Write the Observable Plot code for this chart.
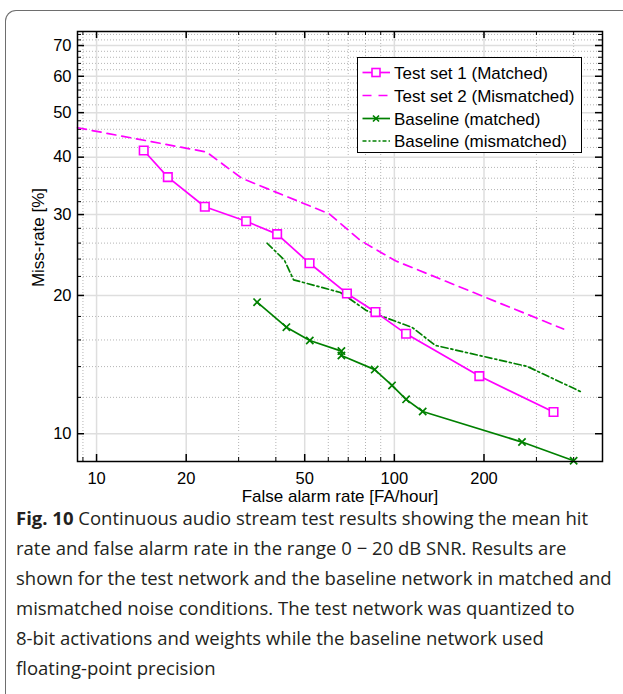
<!DOCTYPE html>
<html><head><meta charset="utf-8">
<script src="https://cdn.jsdelivr.net/npm/d3@7"></script>
<script src="https://cdn.jsdelivr.net/npm/@observablehq/plot@0.6"></script>
<style>
html,body{margin:0;padding:0;background:#fff;}
body{width:623px;height:694px;overflow:hidden;position:relative;font-family:"Liberation Sans",Arial,sans-serif;}
#border{position:absolute;left:5px;top:10px;width:800px;height:900px;border-top:1.5px solid #6e6e6e;border-left:1.5px solid #6e6e6e;border-top-left-radius:11px;}
#chart{position:absolute;left:0;top:0;}
#legend{position:absolute;left:357px;top:57px;width:223px;height:94px;background:#fff;border:1.5px solid #000;}
#caption{position:absolute;left:16px;top:503px;font-family:"Open Sans",sans-serif;font-size:18.5px;line-height:30px;color:#231f20;white-space:nowrap;}
#caption b{font-weight:700;}
</style></head>
<body>
<div id="border"></div>
<div id="chart"></div>
<div id="legend"></div>
<div id="caption"></div>
<script>
// ---- data ----
const set1FA   = [14.4, 17.35, 23.1, 31.8, 40.4, 51.9, 69.3, 86.4, 109.5, 192.9, 342.4];
const set1Miss = [41.35, 36.2, 31.2, 29.0, 27.2, 23.5, 20.2, 18.4, 16.5, 13.35, 11.15];
const set2FA   = [8.63, 23.4, 30.7, 60.5, 76.9, 100.8, 370];
const set2Miss = [46.35, 41.05, 36.0, 30.1, 26.35, 23.8, 16.9];
const baseMFA   = [34.6, 43.4, 52.0, 66.4, 66.4, 85.9, 98.2, 109.5, 124.5, 268.3, 400];
const baseMMiss = [19.34, 17.06, 15.96, 15.13, 14.8, 13.79, 12.74, 11.88, 11.18, 9.59, 8.73];
const baseMMFA   = [37.4, 42.7, 45.9, 65.9, 80.5, 114.9, 137.3, 279.5, 421];
const baseMMMiss = [25.98, 23.89, 21.63, 20.3, 18.55, 17.03, 15.57, 14.01, 12.36];

const xMajor = [10, 20, 50, 100, 200];
const xMinor = [9, 30, 40, 60, 70, 80, 90, 300, 400];
const yMajor = [10, 20, 30, 40, 50, 60, 70];
const yMinor = [12, 14, 16, 18, 22, 24, 26, 28, 32, 34, 36, 38, 42, 44, 46, 48, 52, 54, 56, 58, 62, 64, 66, 68, 72, 74];

const seriesNames = ["Test set 1 (Matched)", "Test set 2 (Mismatched)", "Baseline (matched)", "Baseline (mismatched)"];
const xLabel = "False alarm rate [FA/hour]";
const yLabel = "Miss-rate [%]";
const captionBold = "Fig. 10";
const captionLines = [
  " Continuous audio stream test results showing the mean hit",
  "rate and false alarm rate in the range 0 \u2212 20 dB SNR. Results are",
  "shown for the test network and the baseline network in matched and",
  "mismatched noise conditions. The test network was quantized to",
  "8-bit activations and weights while the baseline network used",
  "floating-point precision"
];

const MAG = "#ff00ff", GRN = "#008000";
const toRows = (xs, ys) => xs.map((x, i) => ({x, y: ys[i]}));
const s1 = toRows(set1FA, set1Miss), s2 = toRows(set2FA, set2Miss);
const b1 = toRows(baseMFA, baseMMiss), b2 = toRows(baseMMFA, baseMMMiss);

const W = 623, H = 512, mL = 77, mR = 21, mT = 31, mB = 51;
const iW = W - mL - mR, iH = H - mT - mB;

const chart = Plot.plot({
  width: W, height: H,
  marginLeft: mL, marginRight: mR, marginTop: mT, marginBottom: mB,
  x: {type: "log", domain: [8.63, 500], ticks: xMajor, tickSize: 0, tickPadding: 11, tickFormat: d => String(d),
      label: xLabel, labelAnchor: "center", labelOffset: 40, labelArrow: "none"},
  y: {type: "log", domain: [8.7, 75.1], ticks: yMajor, tickSize: 0, tickPadding: 6, tickFormat: d => String(d), label: null},
  style: {fontFamily: "'Liberation Sans', Arial, sans-serif", fontSize: "16.5px", color: "#000", background: "transparent", overflow: "visible"},
  marks: [
    // grid
    Plot.ruleX(xMinor, {x: d => d, stroke: "#b4b4b4", strokeWidth: 1, strokeDasharray: "1,2"}),
    Plot.ruleY(yMinor, {y: d => d, stroke: "#b4b4b4", strokeWidth: 1, strokeDasharray: "1,2"}),
    Plot.ruleX(xMajor, {x: d => d, stroke: "#dedede", strokeWidth: 1.5}),
    Plot.ruleY(yMajor, {y: d => d, stroke: "#dedede", strokeWidth: 1.5}),
    // inward ticks, all four sides
    Plot.tickX(xMajor, {x: d => d, insetTop: iH - 7, stroke: "#000", strokeWidth: 1.5}),
    Plot.tickX(xMajor, {x: d => d, insetBottom: iH - 7, stroke: "#000", strokeWidth: 1.5}),
    Plot.tickX(xMinor, {x: d => d, insetTop: iH - 4, stroke: "#000", strokeWidth: 1}),
    Plot.tickX(xMinor, {x: d => d, insetBottom: iH - 4, stroke: "#000", strokeWidth: 1}),
    Plot.tickY(yMajor, {y: d => d, insetRight: iW - 7, stroke: "#000", strokeWidth: 1.5}),
    Plot.tickY(yMajor, {y: d => d, insetLeft: iW - 7, stroke: "#000", strokeWidth: 1.5}),
    Plot.tickY(yMinor, {y: d => d, insetRight: iW - 4, stroke: "#000", strokeWidth: 1}),
    Plot.tickY(yMinor, {y: d => d, insetLeft: iW - 4, stroke: "#000", strokeWidth: 1}),
    // series
    Plot.line(s2, {x: "x", y: "y", stroke: MAG, strokeWidth: 1.7, strokeDasharray: "9,6"}),
    Plot.line(b2, {x: "x", y: "y", stroke: GRN, strokeWidth: 1.7, strokeDasharray: "7,3,2,3"}),
    Plot.line(s1, {x: "x", y: "y", stroke: MAG, strokeWidth: 1.7}),
    Plot.dot(s1, {x: "x", y: "y", symbol: "square", r: 4.8, fill: "white", stroke: MAG, strokeWidth: 1.6}),
    Plot.line(b1, {x: "x", y: "y", stroke: GRN, strokeWidth: 1.7}),
    Plot.dot(b1, {x: "x", y: "y", symbol: "times", r: 3.4, stroke: GRN, strokeWidth: 1.7}),
    // y label
    Plot.text([yLabel], {text: d => d, frameAnchor: "left", textAnchor: "middle", rotate: -90, dx: -39, dy: -9, fontSize: 17}),
    Plot.frame({stroke: "#000", strokeWidth: 1.5})
  ]
});
document.getElementById("chart").appendChild(chart);
d3.select(chart).selectAll("[aria-label='x-axis label'] text, g[aria-label='x-axis label']").style("font-size", "17px");

// legend
const lg = d3.select("#legend").append("svg").attr("width", 223).attr("height", 94)
  .style("font-family", "'Liberation Sans', Arial, sans-serif").style("font-size", "17px");
const rowsY = [14.5, 37.5, 60.5, 83];
const styles = [
  {stroke: MAG, dash: null, marker: "square"},
  {stroke: MAG, dash: "9,7"},
  {stroke: GRN, dash: null, marker: "times"},
  {stroke: GRN, dash: "4,2,2,2"}
];
seriesNames.forEach((name, i) => {
  const g = lg.append("g").attr("transform", `translate(0,${rowsY[i]})`);
  const st = styles[i];
  g.append("line").attr("x1", 4.5).attr("x2", 32).attr("y1", 0).attr("y2", 0)
    .attr("stroke", st.stroke).attr("stroke-width", 1.7).attr("stroke-dasharray", st.dash);
  if (st.marker === "square") g.append("rect").attr("x", 14).attr("y", -4).attr("width", 8).attr("height", 8)
    .attr("fill", "white").attr("stroke", MAG).attr("stroke-width", 1.6);
  if (st.marker === "times") g.append("path").attr("d", "M15,-3L21,3M15,3L21,-3").attr("stroke", GRN).attr("stroke-width", 1.7);
  g.append("text").attr("x", 36).attr("y", 0).attr("dy", "0.36em").text(name);
});

// caption
const cap = document.getElementById("caption");
captionLines.forEach((t, i) => {
  const d = document.createElement("div");
  if (i === 0) { const b = document.createElement("b"); b.textContent = captionBold; d.appendChild(b); }
  d.appendChild(document.createTextNode(t));
  cap.appendChild(d);
});
</script>
</body></html>
